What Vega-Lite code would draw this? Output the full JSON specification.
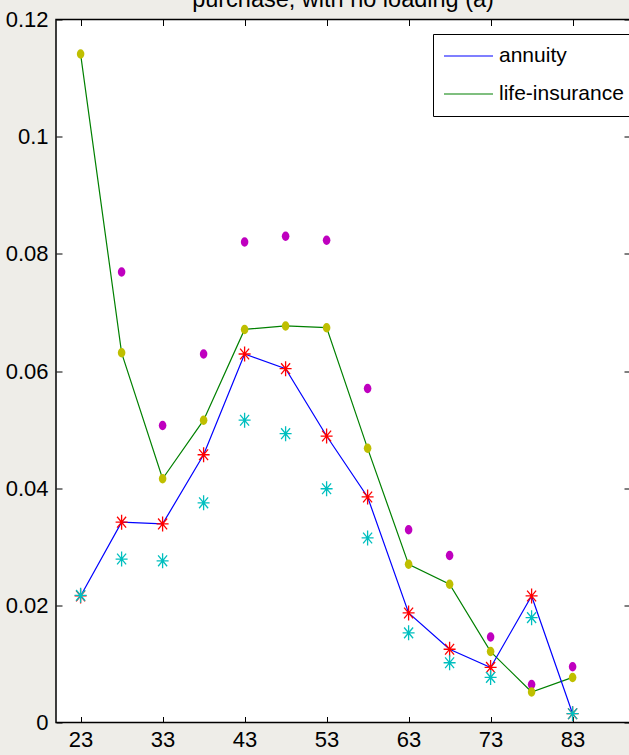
{
  "$schema": "https://vega.github.io/schema/vega-lite/v6.json",
  "autosize": {"type": "none"},
  "width": 574,
  "height": 703,
  "padding": {"left": 56, "top": 19.5, "right": 0, "bottom": 33},
  "background": "#eeede8",
  "title": {
    "text": "purchase, with no loading (a)",
    "anchor": "middle",
    "baseline": "alphabetic",
    "offset": 0,
    "dy": 22,
    "font": "Liberation Sans",
    "fontSize": 23.5,
    "fontWeight": "normal",
    "color": "black"
  },
  "config": {
    "view": {"fill": "white", "stroke": "black", "strokeWidth": 1.5},
    "axis": {
      "grid": false,
      "domain": false,
      "labelFont": "Liberation Sans",
      "labelFontSize": 22,
      "labelColor": "black",
      "tickColor": "black",
      "tickWidth": 1,
      "title": null
    }
  },
  "data": {
    "values": [
      {"age": 23, "life": 0.1141, "lifeM": null, "ann": 0.0216, "annC": 0.0217},
      {"age": 28, "life": 0.0631, "lifeM": 0.0769, "ann": 0.0342, "annC": 0.0279},
      {"age": 33, "life": 0.0416, "lifeM": 0.0507, "ann": 0.0339, "annC": 0.0276},
      {"age": 38, "life": 0.0516, "lifeM": 0.0629, "ann": 0.0457, "annC": 0.0375},
      {"age": 43, "life": 0.0671, "lifeM": 0.0820, "ann": 0.0629, "annC": 0.0516},
      {"age": 48, "life": 0.0677, "lifeM": 0.0830, "ann": 0.0604, "annC": 0.0493},
      {"age": 53, "life": 0.0674, "lifeM": 0.0823, "ann": 0.0489, "annC": 0.0399},
      {"age": 58, "life": 0.0468, "lifeM": 0.0570, "ann": 0.0385, "annC": 0.0315},
      {"age": 63, "life": 0.0270, "lifeM": 0.0329, "ann": 0.0187, "annC": 0.0153},
      {"age": 68, "life": 0.0236, "lifeM": 0.0285, "ann": 0.0125, "annC": 0.0102},
      {"age": 73, "life": 0.0121, "lifeM": 0.0146, "ann": 0.0094, "annC": 0.0077},
      {"age": 78, "life": 0.0052, "lifeM": 0.0065, "ann": 0.0216, "annC": 0.0179},
      {"age": 83, "life": 0.0077, "lifeM": 0.0095, "ann": 0.0015, "annC": 0.0015}
    ]
  },
  "layer": [
    {
      "mark": {"type": "line", "strokeWidth": 1.2},
      "encoding": {
        "x": {"field": "age", "type": "quantitative",
              "scale": {"domain": [20, 90], "nice": false, "zero": false},
              "axis": {"orient": "bottom", "values": [23, 33, 43, 53, 63, 73, 83], "tickSize": -6, "labelPadding": 13}},
        "y": {"field": "life", "type": "quantitative",
              "scale": {"domain": [0, 0.12], "nice": false, "zero": true},
              "axis": {"orient": "left", "values": [0, 0.02, 0.04, 0.06, 0.08, 0.1, 0.12], "format": ".2~f", "tickSize": -6, "labelPadding": 14, "labelFlush": false, "labelOverlap": false}},
        "color": {"datum": "life-insurance", "type": "nominal",
                  "scale": {"domain": ["annuity", "life-insurance"], "range": ["#0000ff", "#008000"]},
                  "legend": {
                    "title": null, "orient": "none", "legendX": 377, "legendY": 14.5,
                    "symbolType": "stroke", "symbolSize": 2401, "symbolStrokeWidth": 1.2,
                    "labelFont": "Liberation Sans", "labelFontSize": 21, "labelColor": "black",
                    "labelOffset": 5, "padding": 10, "rowPadding": 14, "clipHeight": 24,
                    "fillColor": "white", "strokeColor": "black"
                  }}
      }
    },
    {
      "mark": {"type": "line", "strokeWidth": 1.2},
      "encoding": {
        "x": {"field": "age", "type": "quantitative",
              "axis": {"orient": "top", "values": [23, 33, 43, 53, 63, 73, 83], "tickSize": -6, "labels": false}},
        "y": {"field": "ann", "type": "quantitative",
              "axis": {"orient": "right", "values": [0, 0.02, 0.04, 0.06, 0.08, 0.1, 0.12], "tickSize": -6, "labels": false}},
        "color": {"datum": "annuity", "type": "nominal"}
      }
    },
    {
      "mark": {"type": "point", "filled": true, "opacity": 1, "color": "#bf00bf", "size": 90,
               "shape": "M-0.8,0A0.8,1 0 1,0 0.8,0A0.8,1 0 1,0 -0.8,0Z"},
      "encoding": {
        "x": {"field": "age", "type": "quantitative", "axis": null},
        "y": {"field": "lifeM", "type": "quantitative", "axis": null}
      }
    },
    {
      "mark": {"type": "point", "filled": true, "opacity": 1, "color": "#bfbf00", "size": 90,
               "shape": "M-0.8,0A0.8,1 0 1,0 0.8,0A0.8,1 0 1,0 -0.8,0Z"},
      "encoding": {
        "x": {"field": "age", "type": "quantitative", "axis": null},
        "y": {"field": "life", "type": "quantitative", "axis": null}
      }
    },
    {
      "mark": {"type": "point", "filled": false, "opacity": 1, "color": "#ff0000", "size": 225, "strokeWidth": 1.3,
               "shape": "M0,-1V1M-0.8,0H0.8M-0.6,-0.72L0.6,0.72M-0.6,0.72L0.6,-0.72"},
      "encoding": {
        "x": {"field": "age", "type": "quantitative", "axis": null},
        "y": {"field": "ann", "type": "quantitative", "axis": null}
      }
    },
    {
      "mark": {"type": "point", "filled": false, "opacity": 1, "color": "#00bfbf", "size": 225, "strokeWidth": 1.3,
               "shape": "M0,-1V1M-0.8,0H0.8M-0.6,-0.72L0.6,0.72M-0.6,0.72L0.6,-0.72"},
      "encoding": {
        "x": {"field": "age", "type": "quantitative", "axis": null},
        "y": {"field": "annC", "type": "quantitative", "axis": null}
      }
    }
  ]
}
